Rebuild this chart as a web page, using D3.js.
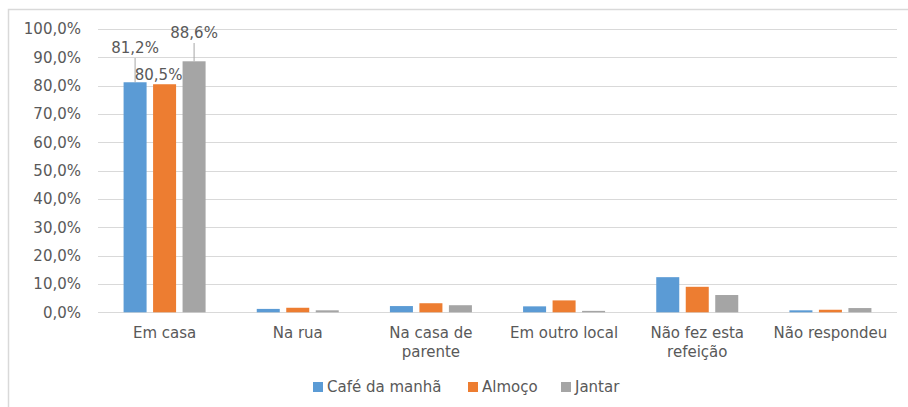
<!DOCTYPE html>
<html>
<head>
<meta charset="utf-8">
<script src="https://cdn.jsdelivr.net/npm/d3@7"></script>
<style>
  body { margin: 0; background: #fff; }
  svg text { font-family: 'DejaVu Sans', sans-serif; fill: #595959; }
</style>
</head>
<body>
<svg id="chart"></svg>
<script>
// Data
var categories = ['Em casa', 'Na rua', 'Na casa de parente', 'Em outro local', 'Não fez esta refeição', 'Não respondeu'];
var categoryLines = [['Em casa'], ['Na rua'], ['Na casa de', 'parente'], ['Em outro local'], ['Não fez esta', 'refeição'], ['Não respondeu']];
var seriesNames = ['Café da manhã', 'Almoço', 'Jantar'];
var cafe = [81.2, 1.2, 2.2, 2.1, 12.4, 0.7];
var almoco = [80.5, 1.6, 3.2, 4.2, 9.0, 0.9];
var jantar = [88.6, 0.7, 2.5, 0.5, 6.1, 1.5];
var yTicks = [0, 10, 20, 30, 40, 50, 60, 70, 80, 90, 100];
var colors = ['#5b9bd5', '#ed7d31', '#a5a5a5'];

var width = 908;
var height = 407;
var margin = { top: 29, right: 11, bottom: 94.7, left: 98 };
var fontSize = '15px';

var svg = d3.select('#chart')
  .attr('width', width)
  .attr('height', height);

// Frame
svg.append('path')
  .attr('d', 'M8.5,' + height + 'V9.5H' + width)
  .attr('fill', 'none')
  .attr('stroke', '#d9d9d9')
  .attr('stroke-width', 1.5);

// Scales
var x0 = d3.scaleBand()
  .domain(categories)
  .range([margin.left, width - margin.right]);

var groupWidth = 82;
var x1 = d3.scaleBand()
  .domain(seriesNames)
  .range([0, groupWidth])
  .paddingInner(0.22);

var y = d3.scaleLinear()
  .domain([0, 100])
  .range([height - margin.bottom, margin.top]);

var fmt = function(v) {
  return v.toFixed(1).replace('.', ',') + '%';
};

// Gridlines
svg.append('g')
  .selectAll('line')
  .data(yTicks)
  .enter()
  .append('line')
  .attr('x1', margin.left)
  .attr('x2', width - margin.right)
  .attr('y1', function(d) { return Math.round(y(d)) + 0.5; })
  .attr('y2', function(d) { return Math.round(y(d)) + 0.5; })
  .attr('stroke', '#d9d9d9')
  .attr('stroke-width', 1);

// Y labels
svg.append('g')
  .selectAll('text')
  .data(yTicks)
  .enter()
  .append('text')
  .attr('x', 81)
  .attr('y', function(d) { return y(d); })
  .attr('dy', '0.35em')
  .attr('text-anchor', 'end')
  .style('font-size', fontSize)
  .text(fmt);

// Bars
var series = [cafe, almoco, jantar];
var groups = svg.append('g')
  .selectAll('g')
  .data(categories)
  .enter()
  .append('g')
  .attr('transform', function(d) {
    return 'translate(' + (x0(d) + (x0.bandwidth() - groupWidth) / 2) + ',0)';
  });

groups.selectAll('rect')
  .data(function(d, i) {
    return seriesNames.map(function(s, j) {
      return { name: s, value: series[j][i], color: colors[j] };
    });
  })
  .enter()
  .append('rect')
  .attr('x', function(d) { return x1(d.name); })
  .attr('y', function(d) { return y(d.value); })
  .attr('width', x1.bandwidth())
  .attr('height', function(d) { return y(0) - y(d.value); })
  .attr('fill', function(d) { return d.color; });

// Data labels on first category
var firstX = x0(categories[0]) + (x0.bandwidth() - groupWidth) / 2;
var labelInfo = [
  { s: 0, ly: 48, leader: true },
  { s: 1, ly: 75, leader: false },
  { s: 2, ly: 33, leader: true }
];
labelInfo.forEach(function(l) {
  var cx = firstX + x1(seriesNames[l.s]) + x1.bandwidth() / 2;
  var v = series[l.s][0];
  if (l.leader) {
    svg.append('line')
      .attr('x1', cx)
      .attr('x2', cx)
      .attr('y1', l.ly + 10)
      .attr('y2', y(v))
      .attr('stroke', '#a6a6a6')
      .attr('stroke-width', 1);
  }
  svg.append('text')
    .attr('x', l.s === 1 ? cx - 6 : cx)
    .attr('y', l.ly)
    .attr('dy', '0.35em')
    .attr('text-anchor', 'middle')
    .style('font-size', fontSize)
    .text(fmt(v));
});

// Category labels
svg.append('g')
  .selectAll('text')
  .data(categories)
  .enter()
  .append('text')
  .attr('x', function(d) { return x0(d) + x0.bandwidth() / 2; })
  .attr('y', 333)
  .attr('text-anchor', 'middle')
  .style('font-size', fontSize)
  .each(function(d, i) {
    var t = d3.select(this);
    categoryLines[i].forEach(function(line, k) {
      t.append('tspan')
        .attr('x', x0(d) + x0.bandwidth() / 2)
        .attr('dy', k === 0 ? '0.35em' : '19px')
        .text(line);
    });
  });

// Legend
var legendX = [313, 468, 561];
var legend = svg.append('g')
  .selectAll('g')
  .data(seriesNames)
  .enter()
  .append('g')
  .attr('transform', function(d, i) { return 'translate(' + legendX[i] + ',387)'; });

legend.append('rect')
  .attr('x', 0)
  .attr('y', -5)
  .attr('width', 10)
  .attr('height', 10)
  .attr('fill', function(d, i) { return colors[i]; });

legend.append('text')
  .attr('x', 14)
  .attr('y', 0)
  .attr('dy', '0.35em')
  .style('font-size', fontSize)
  .text(function(d) { return d; });
</script>
</body>
</html>
